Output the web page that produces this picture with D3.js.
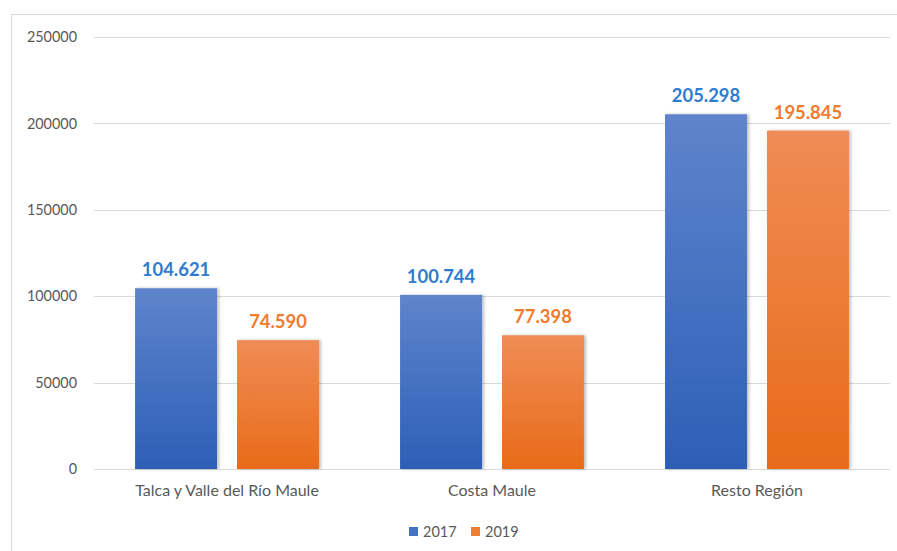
<!DOCTYPE html>
<html>
<head>
<meta charset="utf-8">
<script src="https://cdn.jsdelivr.net/npm/d3@7"></script>
<style>
  body { margin: 0; background: #fff; }
  text { font-family: Lato, "Open Sans", sans-serif; }
</style>
</head>
<body>
<div id="viz"></div>
<script>
// chart data
const categories = ["Talca y Valle del Río Maule", "Costa Maule", "Resto Región"];
const seriesNames = ["2017", "2019"];
const values2017 = [104621, 100744, 205298];
const values2019 = [74590, 77398, 195845];
const yTicks = [0, 50000, 100000, 150000, 200000, 250000];

const W = 897, H = 551;
const margin = {top: 37, right: 7, bottom: 82, left: 94},
      width = W - margin.left - margin.right,
      height = H - margin.top - margin.bottom;

const svgRoot = d3.select("#viz")
  .append("svg")
    .attr("width", W)
    .attr("height", H);

// gradients for bars
const defs = svgRoot.append("defs");
const grads = [
  {id: "gBlue", top: "#5f84cc", bottom: "#2d5fb7"},
  {id: "gOrange", top: "#f08c55", bottom: "#e86b19"}
];
grads.forEach(g => {
  const lg = defs.append("linearGradient")
    .attr("id", g.id).attr("x1", 0).attr("y1", 0).attr("x2", 0).attr("y2", 1);
  lg.append("stop").attr("offset", "0%").attr("stop-color", g.top);
  lg.append("stop").attr("offset", "100%").attr("stop-color", g.bottom);
});
const shadow = defs.append("filter").attr("id", "shadow")
  .attr("x", "-10%").attr("y", "-10%").attr("width", "130%").attr("height", "120%");
shadow.append("feDropShadow")
  .attr("dx", 2).attr("dy", 0).attr("stdDeviation", 1.5)
  .attr("flood-color", "#000").attr("flood-opacity", 0.25);

// chart frame (left and top edges visible)
svgRoot.append("path")
  .attr("d", "M11.5," + H + "V14.5H" + W)
  .attr("fill", "none")
  .attr("stroke", "#d9d9d9")
  .attr("stroke-width", 1);

const svg = svgRoot.append("g")
  .attr("transform", "translate(" + margin.left + "," + margin.top + ")");

// scales
const x0 = d3.scaleBand()
  .domain(categories)
  .range([0, width])
  .paddingInner(0.306)
  .paddingOuter(0.155);

const x1 = d3.scaleBand()
  .domain(seriesNames)
  .range([0, x0.bandwidth()])
  .paddingInner(0.196);

const y = d3.scaleLinear()
  .domain([0, 250000])
  .range([height, 0]);

// gridlines
svg.append("g")
  .selectAll("line")
  .data(yTicks)
  .join("line")
    .attr("x1", 0)
    .attr("x2", width)
    .attr("y1", d => Math.round(y(d)) + 0.5)
    .attr("y2", d => Math.round(y(d)) + 0.5)
    .attr("stroke", "#d9d9d9")
    .attr("stroke-width", 1);

// Y axis labels
svg.append("g")
  .call(d3.axisLeft(y).tickValues(yTicks).tickSize(0).tickPadding(17).tickFormat(d3.format("d")))
  .call(g => g.select(".domain").remove())
  .selectAll("text")
    .attr("fill", "#595959")
    .style("font-size", "14.4px");

// X axis labels
svg.append("g")
  .attr("transform", "translate(0," + height + ")")
  .call(d3.axisBottom(x0).tickSize(0).tickPadding(16))
  .call(g => g.select(".domain").remove())
  .selectAll("text")
    .attr("fill", "#595959")
    .style("font-size", "16px");

// bars
const rows = categories.map((c, i) => ({cat: c, vals: [values2017[i], values2019[i]]}));
const fills = ["url(#gBlue)", "url(#gOrange)"];
const labelColors = ["#2e7bd0", "#f07a2e"];

const groups = svg.append("g")
  .selectAll("g")
  .data(rows)
  .join("g")
    .attr("transform", d => "translate(" + x0(d.cat) + ",0)");

groups.selectAll("rect")
  .data(d => d.vals.map((v, j) => ({s: seriesNames[j], v: v, j: j})))
  .join("rect")
    .attr("x", d => x1(d.s))
    .attr("y", d => y(d.v))
    .attr("width", x1.bandwidth())
    .attr("height", d => height - y(d.v))
    .attr("fill", d => fills[d.j])
    .attr("filter", "url(#shadow)");

groups.selectAll("text.val")
  .data(d => d.vals.map((v, j) => ({s: seriesNames[j], v: v, j: j})))
  .join("text")
    .attr("class", "val")
    .attr("x", d => x1(d.s) + x1.bandwidth() / 2)
    .attr("y", d => y(d.v) - 12)
    .attr("text-anchor", "middle")
    .attr("fill", d => labelColors[d.j])
    .style("font-size", "18.4px")
    .style("font-weight", "bold")
    .text(d => d3.format(",")(d.v).replace(/,/g, "."));

// legend
const legend = svgRoot.append("g")
  .attr("transform", "translate(409,526)");
const legendColors = ["#4472c4", "#ed7d31"];
const legendX = [0, 62];
seriesNames.forEach((s, i) => {
  const lg = legend.append("g").attr("transform", "translate(" + legendX[i] + ",0)");
  lg.append("rect").attr("width", 9).attr("height", 9).attr("y", 1).attr("fill", legendColors[i]);
  lg.append("text").attr("x", 14).attr("y", 11)
    .attr("fill", "#595959").style("font-size", "14.5px").text(s);
});
</script>
</body>
</html>
